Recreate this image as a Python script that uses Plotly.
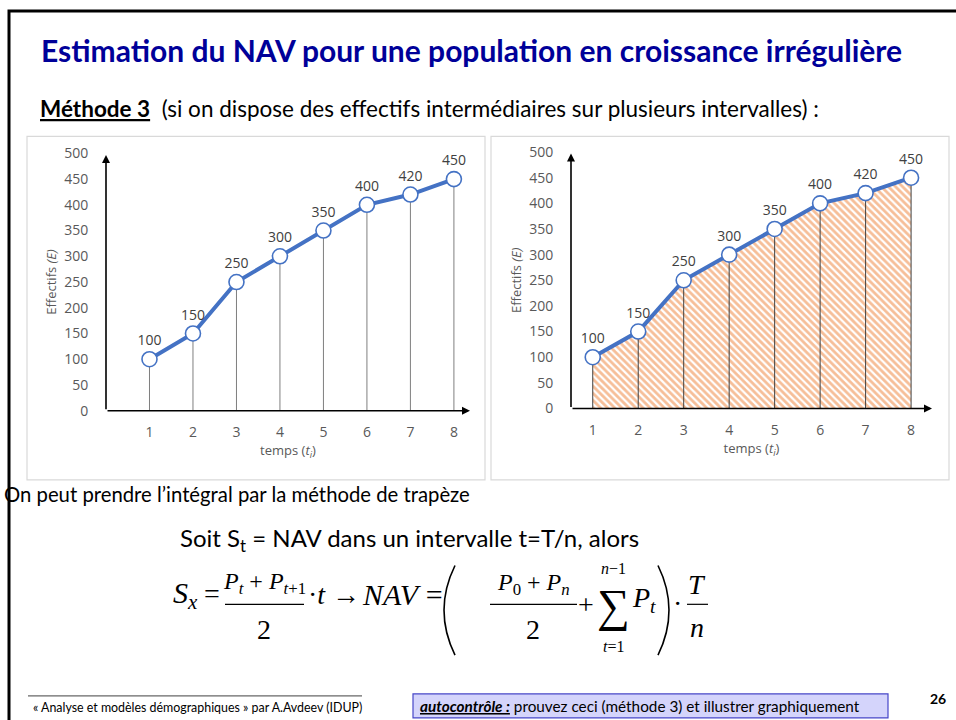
import plotly.graph_objects as go

# ---- data ----
t_vals = [1, 2, 3, 4, 5, 6, 7, 8]
effectifs = [100, 150, 250, 300, 350, 400, 420, 450]
y_ticks = [0, 50, 100, 150, 200, 250, 300, 350, 400, 450, 500]

W, H = 956, 720
Y_OFF, Y_SCALE = 8.0, 0.978   # empirical vertical placement correction of the page capture
BLUE = "#4472C4"
ORANGE = "#ED7D31"
CHART_FONT = "Open Sans"
SLIDE_FONT = "Lato"
SERIF = "Liberation Serif"


def px(x):
    return x / W


def py(y):
    return 1 - ((y - Y_OFF) / Y_SCALE) / H


fig = go.Figure()

charts = [
    dict(xa="x", ya="y", dom_x=(106, 470), dom_y=(152, 410.5), xr=(0, 8.37), fill=False),
    dict(xa="x2", ya="y2", dom_x=(571, 932), dom_y=(150.7, 408.3), xr=(0.522, 8.46), fill=True),
]

for c in charts:
    xa, ya = c["xa"], c["ya"]
    if c["fill"]:
        fig.add_trace(go.Scatter(
            x=t_vals, y=effectifs, mode="lines", fill="tozeroy",
            line=dict(width=0, color=ORANGE),
            fillcolor="rgba(0,0,0,0)",
            fillpattern=dict(shape="\\", fgcolor=ORANGE, bgcolor="white", size=5, solidity=0.55),
            xaxis=xa, yaxis=ya, showlegend=False, hoverinfo="skip"))
    dx, dy = [], []
    for tv, ev in zip(t_vals, effectifs):
        dx += [tv, tv, None]
        dy += [0, ev, None]
    fig.add_trace(go.Scatter(
        x=dx, y=dy, mode="lines",
        line=dict(color="#404040" if c["fill"] else "#7f7f7f", width=1),
        xaxis=xa, yaxis=ya, showlegend=False, hoverinfo="skip"))
    fig.add_trace(go.Scatter(
        x=t_vals, y=effectifs, mode="lines+markers+text",
        text=[str(v) for v in effectifs], textposition="top center",
        textfont=dict(family=CHART_FONT, size=14, color="#404040"),
        line=dict(color=BLUE, width=4),
        marker=dict(symbol="circle", size=15, color="white", line=dict(color=BLUE, width=1.6)),
        xaxis=xa, yaxis=ya, showlegend=False, cliponaxis=False))

axis_common = dict(showgrid=False, zeroline=False, showline=False)
for i, c in enumerate(charts):
    sfx = "" if i == 0 else str(i + 1)
    fig.update_layout(**{
        "xaxis" + sfx: dict(
            domain=[px(c["dom_x"][0]), px(c["dom_x"][1])], range=list(c["xr"]),
            anchor="y" + sfx, tickvals=t_vals, ticks="outside", ticklen=9,
            tickcolor="rgba(0,0,0,0)",
            tickfont=dict(family=CHART_FONT, size=14, color="#595959"),
            title=dict(text="temps (<i>t<sub>i</sub></i>)", standoff=4,
                       font=dict(family=CHART_FONT, size=13, color="#595959")),
            **axis_common),
        "yaxis" + sfx: dict(
            domain=[py(c["dom_y"][1]), py(c["dom_y"][0])], range=[0, 500],
            anchor="x" + sfx, tickvals=y_ticks, ticks="outside", ticklen=14,
            tickcolor="rgba(0,0,0,0)",
            tickfont=dict(family=CHART_FONT, size=14, color="#595959"),
            title=dict(text="Effectifs <i>(E)</i>", standoff=4,
                       font=dict(family=CHART_FONT, size=13, color="#595959")),
            **axis_common),
    })

annotations = []
shapes = []

for c in charts:
    xa, ya = c["xa"], c["ya"]
    x0, x1 = c["xr"]
    annotations.append(dict(x=x0, y=497, ax=x0, ay=0, xref=xa, yref=ya, axref=xa, ayref=ya,
                            showarrow=True, arrowhead=2, arrowsize=1, arrowwidth=1.6,
                            arrowcolor="black", text=""))
    annotations.append(dict(x=x1, y=0, ax=x0, ay=0, xref=xa, yref=ya, axref=xa, ayref=ya,
                            showarrow=True, arrowhead=2, arrowsize=1, arrowwidth=1.6,
                            arrowcolor="black", text=""))

for (x0, y0, x1, y1) in [(27, 135, 485, 480), (491, 135, 949, 480)]:
    shapes.append(dict(type="rect", xref="paper", yref="paper", x0=px(x0), x1=px(x1),
                       y0=py(y1), y1=py(y0), line=dict(color="#d9d9d9", width=1.2), layer="below"))

shapes.append(dict(type="rect", xref="paper", yref="paper", x0=px(9), x1=px(975),
                   y0=py(760), y1=py(9), line=dict(color="black", width=3)))


def txt(text, x, y, size, family=SLIDE_FONT, color="black", xanchor="left", yanchor="middle"):
    annotations.append(dict(text=text, x=px(x), y=py(y), xref="paper", yref="paper",
                            xanchor=xanchor, yanchor=yanchor, showarrow=False,
                            font=dict(family=family, size=size, color=color)))


def hline(x0, x1, y, color="black", width=1.2):
    shapes.append(dict(type="line", xref="paper", yref="paper", x0=px(x0), x1=px(x1),
                       y0=py(y), y1=py(y), line=dict(color=color, width=width)))


def paren(xe, xm, ytop, ybot):
    ym = (ytop + ybot) / 2
    path = (f"M {px(xe):.5f},{py(ytop):.5f} Q {px(xm):.5f},{py(ym):.5f} "
            f"{px(xe):.5f},{py(ybot):.5f}")
    shapes.append(dict(type="path", xref="paper", yref="paper", path=path,
                       line=dict(color="black", width=1.6)))


# title and texts
txt("<b>Estimation du NAV pour une population en croissance irrégulière</b>", 471, 48, 30,
    color="#000099", xanchor="center")
txt("<b><u>Méthode 3</u></b>  (si on dispose des effectifs intermédiaires sur plusieurs intervalles) :",
    38, 107, 22.5)
txt("On peut prendre l’intégral par la méthode de trapèze", 2, 494, 20.3)
txt("Soit S<sub>t</sub> = NAV dans un intervalle t=T/n, alors", 178, 540, 24)

# formula
txt("<i>S</i><sub><i>x</i></sub>", 171, 596, 30, family=SERIF)
txt("=", 212, 594, 28, family=SERIF, xanchor="center")
txt("<i>P</i><sub><i>t</i></sub> + <i>P</i><sub><i>t</i>+1</sub>", 264, 584, 24, family=SERIF, xanchor="center")
hline(225, 304, 605)
txt("2", 264, 630, 28, family=SERIF, xanchor="center")
txt("·<i>t</i> →", 306, 595, 28, family=SERIF)
txt("<i>NAV</i> =", 360, 595, 30, family=SERIF)
paren(455, 433, 566, 656)
txt("<i>P</i><sub>0</sub> + <i>P</i><sub><i>n</i></sub>", 533, 585, 24, family=SERIF, xanchor="center")
hline(490, 577, 605)
txt("2", 533, 630, 28, family=SERIF, xanchor="center")
txt("+", 586, 605, 28, family=SERIF, xanchor="center")
txt("∑", 613, 606, 46, family=SERIF, xanchor="center")
txt("<i>n</i>−1", 613, 569, 16, family=SERIF, xanchor="center")
txt("<i>t</i>=1", 613, 647, 16, family=SERIF, xanchor="center")
txt("<i>P</i><sub><i>t</i></sub>", 630, 600, 28, family=SERIF)
paren(658, 680, 566, 656)
txt("·", 677, 604, 28, family=SERIF, xanchor="center")
txt("<i>T</i>", 697, 585, 28, family=SERIF, xanchor="center")
hline(687, 708, 605)
txt("<i>n</i>", 697, 628, 28, family=SERIF, xanchor="center")

# footer
hline(28, 362, 697, color="#404040", width=1)
txt("« Analyse et modèles démographiques » par A.Avdeev (IDUP)", 31, 709, 12.4)
shapes.append(dict(type="rect", xref="paper", yref="paper", x0=px(413), x1=px(888),
                   y0=py(719), y1=py(695), fillcolor="#d4d4fb", line=dict(color="#4646c8", width=1.2),
                   layer="below"))
txt("<b><i><u>autocontrôle :</u></i></b> prouvez ceci (méthode 3) et illustrer graphiquement",
    418, 707, 15.3)
txt("<b>26</b>", 938, 700, 14, xanchor="center")

fig.update_layout(
    width=W, height=H, margin=dict(l=0, r=0, t=0, b=0),
    paper_bgcolor="white", plot_bgcolor="rgba(0,0,0,0)",
    annotations=annotations, shapes=shapes, showlegend=False,
)

css_js = (
    "var s=document.createElement('style');"
    "s.textContent='html,body{margin:0!important;padding:0!important;overflow:hidden;}';"
    "document.head.appendChild(s);"
)
fig.write_html("out.html", config={"displayModeBar": False}, post_script=css_js)
